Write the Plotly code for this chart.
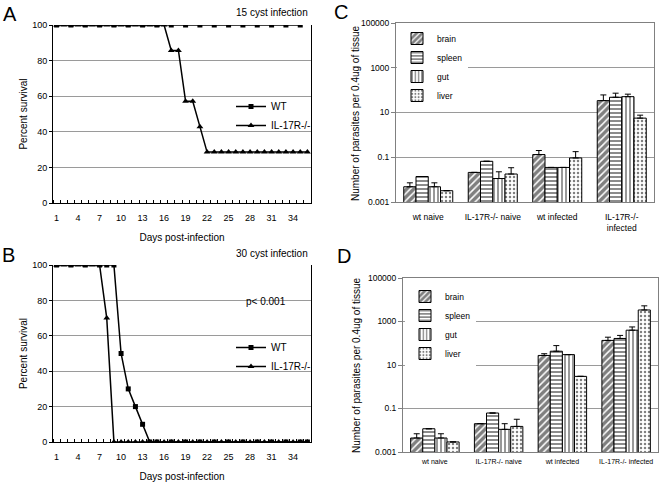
import plotly.graph_objects as go

# ---------------- data ----------------
days = list(range(1, 37))
day_ticks = list(range(1, 35, 3))

a_wt_days = list(range(1, 36, 2))
a_wt = [100] * 18
a_il_days = days
a_il = [100] * 16 + [85.7, 85.7, 57.1, 57.1, 42.9] + [28.6] * 15

b_wt_days = [1, 3, 5, 7, 8, 9, 10, 11, 12, 13, 14, 15, 17, 19, 21, 23, 25, 27, 29, 31, 33, 35, 36]
b_wt = [100, 100, 100, 100, 100, 100, 50, 30, 20, 10, 0, 0, 0, 0, 0, 0, 0, 0, 0, 0, 0, 0, 0]
b_il_days = days
b_il = [100] * 7 + [70] + [0] * 28

c_groups = ["wt naive", "IL-17R-/- naive", "wt infected", "IL-17R-/-<br>infected"]
d_groups = ["wt naive", "IL-17R-/- naive", "wt infected", "IL-17R-/- infected"]
tissues = ["brain", "spleen", "gut", "liver"]

c_vals = {
    "brain": [0.0048, 0.021, 0.132, 34],
    "spleen": [0.0138, 0.066, 0.035, 48],
    "gut": [0.0048, 0.0112, 0.035, 51],
    "liver": [0.0032, 0.0178, 0.093, 5.6],
}
c_upper = {
    "brain": [0.0072, 0.021, 0.2, 61],
    "spleen": [0.0138, 0.066, 0.035, 73],
    "gut": [0.0072, 0.0224, 0.035, 66],
    "liver": [0.0032, 0.034, 0.178, 7.6],
}
d_vals = {
    "brain": [0.0044, 0.020, 27.5, 135],
    "spleen": [0.0117, 0.062, 43, 166],
    "gut": [0.0044, 0.011, 30, 398],
    "liver": [0.0029, 0.015, 3.0, 3390],
}
d_upper = {
    "brain": [0.0069, 0.020, 33, 190],
    "spleen": [0.0117, 0.062, 78, 229],
    "gut": [0.0069, 0.020, 30, 562],
    "liver": [0.0029, 0.032, 3.0, 5250],
}

patterns = {
    "brain": dict(shape="/", size=5, solidity=0.7),
    "spleen": dict(shape="-", size=4, solidity=0.45),
    "gut": dict(shape="|", size=4, solidity=0.4),
    "liver": dict(shape=".", size=4, solidity=0.3),
}

FONT = "Liberation Sans Narrow, Liberation Sans, Arial, sans-serif"
W, H = 664, 483

def px_x(x):
    return x / W

def px_y(y):
    return (H - y) / H

fig = go.Figure()

# ---------------- survival panels ----------------
def add_survival(xa, ya, leg, wd, wv, idays, iv):
    fig.add_trace(go.Scatter(
        x=idays, y=iv, name="IL-17R-/-", mode="lines+markers",
        line=dict(color="black", width=1.5),
        marker=dict(symbol="triangle-up", size=6, color="black"),
        xaxis=xa, yaxis=ya, legend=leg, legendrank=2))
    fig.add_trace(go.Scatter(
        x=wd, y=wv, name="WT", mode="lines+markers",
        line=dict(color="black", width=1.5),
        marker=dict(symbol="square", size=5, color="black"),
        xaxis=xa, yaxis=ya, legend=leg, legendrank=1))

add_survival("x", "y", "legend", a_wt_days, a_wt, a_il_days, a_il)
add_survival("x2", "y2", "legend2", b_wt_days, b_wt, b_il_days, b_il)

# ---------------- parasite burden panels ----------------
def add_bars(xa, ya, leg, groups, vals, upper):
    for t in tissues:
        err = [u - v for u, v in zip(upper[t], vals[t])]
        fig.add_trace(go.Bar(
            x=groups, y=vals[t], name=t,
            marker=dict(color="white", line=dict(color="black", width=1),
                        pattern=dict(fgcolor="black", bgcolor="white", fillmode="overlay",
                                     **patterns[t])),
            error_y=dict(type="data", symmetric=False, array=err,
                         arrayminus=[0] * len(err), color="black",
                         thickness=1, width=3),
            xaxis=xa, yaxis=ya, legend=leg))

add_bars("x3", "y3", "legend3", c_groups, c_vals, c_upper)
add_bars("x4", "y4", "legend4", d_groups, d_vals, d_upper)

# ---------------- axes ----------------
tickfont = dict(family=FONT, size=9, color="black")
titlefont = dict(family=FONT, size=10, color="black")

def surv_axes(n, ytop, ybot):
    sx = "" if n == 1 else str(n)
    fig.update_layout(**{
        "xaxis" + sx: dict(
            domain=[px_x(53), px_x(311)], anchor="y" + sx, automargin=False,
            range=[0.5, 36.5], tickvals=day_ticks, ticks="", showgrid=False,
            showline=True, linecolor="black", linewidth=1, mirror=False,
            tickfont=tickfont, zeroline=False, ticklabelstandoff=6,
            minor=dict(tick0=0.5, dtick=1, ticks="inside", ticklen=3, tickcolor="black", showgrid=False),
            title=dict(text="Days post-infection", font=titlefont, standoff=12)),
        "yaxis" + sx: dict(
            domain=[px_y(ybot), px_y(ytop)], anchor="x" + sx, automargin=False,
            range=[0, 100], dtick=20, ticks="outside", ticklen=3, tickcolor="black",
            showline=True, linecolor="black", linewidth=1, zeroline=False, mirror=True,
            showgrid=True, gridcolor="#9a9a9a", gridwidth=1,
            tickfont=tickfont,
            title=dict(text="Percent survival", font=titlefont, standoff=2)),
    })

surv_axes(1, 25, 203)
surv_axes(2, 265, 442)

def bar_axes(n, x0, x1, ytop, ybot, xfont, standoff):
    sx = str(n)
    fig.update_layout(**{
        "xaxis" + sx: dict(
            domain=[px_x(x0), px_x(x1)], anchor="y" + sx, automargin=False,
            showline=True, linecolor="#808080", linewidth=1, mirror=True,
            ticks="", tickfont=xfont, showgrid=False, ticklabelstandoff=standoff),
        "yaxis" + sx: dict(
            domain=[px_y(ybot), px_y(ytop)], anchor="x" + sx, automargin=False,
            type="log", range=[-3, 5],
            tickvals=[0.001, 0.1, 10, 1000, 100000],
            ticktext=["0.001", "0.1", "10", "1000", "100000"],
            ticks="outside", ticklen=4, tickcolor="#808080",
            showline=True, linecolor="#808080", linewidth=1, mirror=True,
            showgrid=True, gridcolor="#9a9a9a", gridwidth=1,
            tickfont=dict(family=FONT, size=8.5, color="black")),
    })

bar_axes(3, 396, 654, 23, 202, dict(family=FONT, size=8.5, color="black"), 7)
bar_axes(4, 403, 658, 278, 452, dict(family=FONT, size=7, color="black"), 3)

legfont = dict(family=FONT, size=10, color="black")
barlegfont = dict(family=FONT, size=8.5, color="black")
fig.update_layout(
    width=W, height=H,
    margin=dict(l=0, r=0, t=0, b=0),
    paper_bgcolor="white", plot_bgcolor="white",
    font=dict(family=FONT, color="black"),
    barmode="group", bargap=0.24, bargroupgap=0,
    legend=dict(x=px_x(231), y=px_y(92), xanchor="left", yanchor="top",
                bgcolor="rgba(0,0,0,0)", font=legfont, tracegroupgap=0, itemwidth=30),
    legend2=dict(x=px_x(231), y=px_y(333), xanchor="left", yanchor="top",
                 bgcolor="rgba(0,0,0,0)", font=legfont, tracegroupgap=0, itemwidth=30),
    legend3=dict(x=px_x(397), y=px_y(24), xanchor="left", yanchor="top",
                 bgcolor="white", font=barlegfont, tracegroupgap=0, itemwidth=30),
    legend4=dict(x=px_x(405), y=px_y(282), xanchor="left", yanchor="top",
                 bgcolor="white", font=barlegfont, tracegroupgap=0, itemwidth=30),
)

# ---------------- annotations ----------------
def note(text, x, y, size=10, angle=0):
    fig.add_annotation(text=text, x=px_x(x), y=px_y(y), xref="paper", yref="paper",
                       showarrow=False, xanchor="center", yanchor="middle", textangle=angle,
                       font=dict(family=FONT, size=size, color="black"))

note("15 cyst infection", 272, 13)
note("30 cyst infection", 272, 253)
note("p< 0.001", 266, 302)
note("A", 10, 14, size=20)
note("B", 8, 255, size=20)
note("C", 341, 12, size=20)
note("D", 344, 256, size=20)
note("Number of parasites per 0.4ug of tissue", 356, 113, angle=-90)
note("Number of parasites per 0.4ug of tissue", 356, 365, angle=-90)

fig.write_html(
    "out.html",
    config={"displayModeBar": False},
    post_script="document.body.style.margin='0';document.body.style.padding='0';document.body.style.overflow='hidden';",
)
